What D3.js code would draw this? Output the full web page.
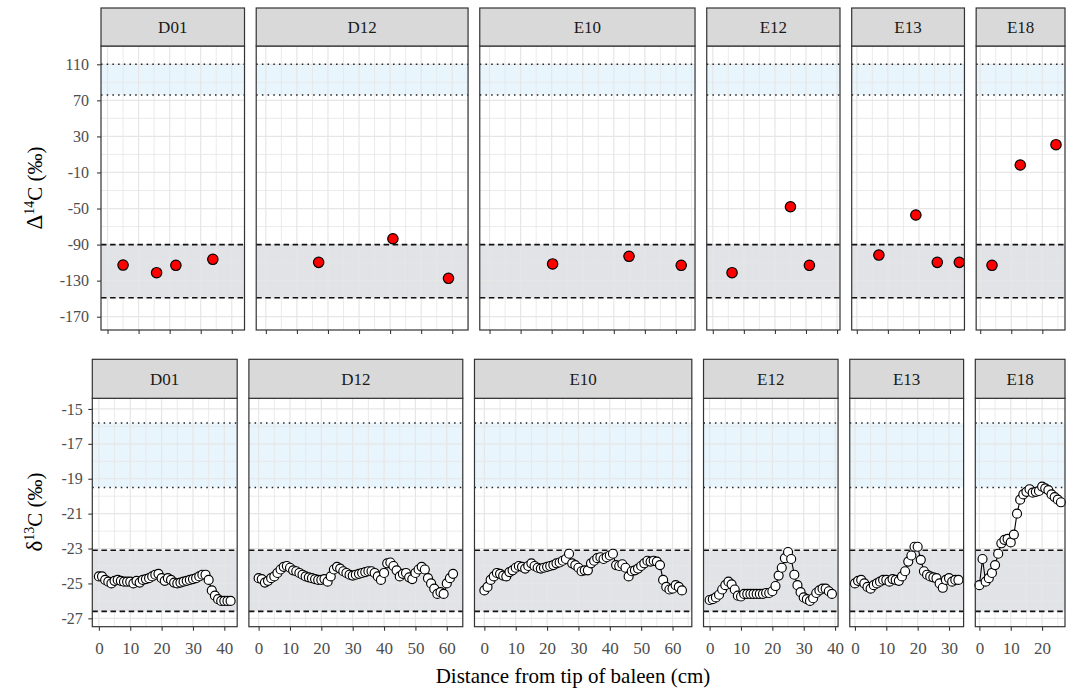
<!DOCTYPE html>
<html>
<head>
<meta charset="utf-8">
<script src="https://cdn.jsdelivr.net/npm/d3@7"></script>
<style>
  html, body { margin: 0; padding: 0; background: #fff; }
  svg { display: block; font-family: "Liberation Serif", "Times New Roman", serif; }
</style>
</head>
<body>
<svg id="chart" width="1072" height="689"></svg>
<script>
// ---------------------------------------------------------------------------
// Data
// ---------------------------------------------------------------------------

const whales = ["D01", "D12", "E10", "E12", "E13", "E18"];

// sampling distances along the baleen plate (cm)
const cm = [0, 1, 2, 3, 4, 5, 6, 7, 8, 9, 10, 11, 12, 13, 14, 15, 16, 17, 18, 19,
  20, 21, 22, 23, 24, 25, 26, 27, 28, 29, 30, 31, 32, 33, 34, 35, 36, 37, 38, 39,
  40, 41, 42, 43, 44, 45, 46, 47, 48, 49, 50, 51, 52, 53, 54, 55, 56, 57, 58, 59,
  60, 61, 62, 63];

// radiocarbon samples (distance, value), one list per whale
const d14cDist = [
  [5.0, 15.8, 22.0, 33.9],
  [17.0, 40.9, 58.8],
  [20.3, 44.9, 61.7],
  [6.2, 25.0, 31.1],
  [7.1, 19.0, 25.9, 33.0],
  [3.8, 12.9, 24.4]
];
const d14cValue = [
  [-112.7, -121.2, -113.0, -106.3],
  [-109.7, -83.5, -127.4],
  [-111.5, -103.0, -113.0],
  [-121.2, -48.0, -113.0],
  [-101.6, -57.2, -109.7, -109.7],
  [-113.0, -1.7, 20.8]
];

// stable carbon isotope profiles, one value per cm
const d13cD01 = [-24.6, -24.6, -24.8, -24.9, -25.0, -24.85, -24.8, -24.85, -24.9, -24.9,
  -24.9, -25.0, -24.85, -24.95, -24.8, -24.75, -24.7, -24.6, -24.5, -24.45,
  -24.7, -24.85, -24.7, -24.8, -24.95, -25.0, -24.95, -24.9, -24.85, -24.8,
  -24.75, -24.7, -24.6, -24.5, -24.5, -24.8, -25.4, -25.7, -25.9, -26.0,
  -26.0, -26.0, -26.0];
const d13cD12 = [-24.7, -24.75, -24.95, -24.85, -24.7, -24.6, -24.4, -24.2, -24.05, -24.0,
  -24.1, -24.25, -24.3, -24.4, -24.5, -24.6, -24.65, -24.7, -24.75, -24.8,
  -24.8, -24.75, -24.9, -24.6, -24.2, -24.05, -24.15, -24.3, -24.4, -24.5,
  -24.55, -24.5, -24.45, -24.4, -24.35, -24.3, -24.3, -24.4, -24.6, -24.8,
  -24.4, -23.85, -23.8, -24.0, -24.25, -24.6, -24.45, -24.4, -24.65, -24.75,
  -24.4, -24.2, -24.05, -24.2, -24.7, -25.0, -25.3, -25.6, -25.5, -25.6,
  -25.0, -24.7, -24.45];
const d13cE10 = [-25.4, -25.2, -24.8, -24.6, -24.4, -24.45, -24.55, -24.6, -24.35, -24.25,
  -24.1, -24.0, -24.05, -24.15, -24.0, -23.85, -24.0, -24.1, -24.15, -24.1,
  -24.05, -24.0, -23.95, -23.85, -23.8, -23.7, -23.6, -23.3, -23.85, -23.95,
  -24.1, -24.3, -24.25, -24.25, -23.85, -23.7, -23.55, -23.5, -23.6, -23.5,
  -23.4, -23.3, -23.95, -24.0, -23.9, -24.1, -24.6, -24.3, -24.25, -24.15,
  -24.0, -23.85, -23.7, -23.75, -23.7, -23.75, -23.95, -24.8, -25.2, -25.35,
  -25.3, -25.1, -25.2, -25.4];
const d13cE12 = [-25.95, -25.9, -25.8, -25.65, -25.35, -25.1, -24.9, -25.05, -25.35, -25.7,
  -25.75, -25.6, -25.6, -25.6, -25.6, -25.6, -25.6, -25.6, -25.55, -25.55,
  -25.45, -25.15, -24.55, -24.1, -23.55, -23.2, -23.6, -24.5, -25.1, -25.5,
  -25.8, -25.9, -26.0, -25.85, -25.55, -25.4, -25.3, -25.3, -25.45, -25.6];
const d13cE13 = [-25.0, -24.85, -24.8, -25.0, -25.2, -25.3, -25.1, -25.0, -24.9, -24.8,
  -24.8, -24.9, -24.75, -24.8, -24.85, -24.6, -24.3, -23.75, -23.4, -22.9,
  -22.9, -23.65, -24.3, -24.5, -24.6, -24.65, -24.7, -25.0, -25.25, -24.8,
  -24.7, -24.9, -24.8, -24.8];
const d13cE18 = [-25.1, -23.6, -24.9, -24.7, -24.4, -23.95, -23.3, -22.7, -22.5, -22.45,
  -22.65, -22.2, -21.0, -20.2, -19.9, -19.75, -19.6, -19.8, -19.75, -19.7,
  -19.45, -19.55, -19.65, -19.9, -20.05, -20.2, -20.35];
const d13cSeries = [d13cD01, d13cD12, d13cE10, d13cE12, d13cE13, d13cE18];

// reference ranges: dotted = open-ocean source, dashed = baseline
const d14cDotted = [76, 110];
const d14cDashed = [-149, -90];
const d13cDotted = [-19.5, -15.8];
const d13cDashed = [-26.6, -23.1];

// axis breaks
const d14cTicks = [110, 70, 30, -10, -50, -90, -130, -170];
const d14cMinor = [130, 90, 50, 10, -30, -70, -110, -150];
const d13cTicks = [-15, -17, -19, -21, -23, -25, -27];
const d13cMinor = [-16, -18, -20, -22, -24, -26];
const distTicks = [0, 10, 20, 30, 40, 50, 60];
const distMinor = [5, 15, 25, 35, 45, 55, 65];

// ---------------------------------------------------------------------------
// Layout / style
// ---------------------------------------------------------------------------

const GAP = 11.7;
const RIGHT = 1065;
const BORDER = "#333333";
const GRID = "#E6E6E6";
const TICK_TEXT = "#4D4D4D";

const rows = [
  {
    left: 101, stripTop: 8, top: 46, bottom: 330,
    yLim: [-184.75, 130.3], yTicks: d14cTicks, yMinor: d14cMinor,
    dotted: d14cDotted, dashed: d14cDashed, labelPad: 8, showX: false
  },
  {
    left: 92.3, stripTop: 359.3, top: 398.3, bottom: 626.7,
    yLim: [-27.48, -14.39], yTicks: d13cTicks, yMinor: d13cMinor,
    dotted: d13cDotted, dashed: d13cDashed, labelPad: 5.5, showX: true
  }
];

// x limits shared by both rows: data extent + 5% each side
const xDomains = d13cSeries.map((s) => {
  const xs = cm.slice(0, s.length);
  const lo = d3.min(xs), hi = d3.max(xs), r = hi - lo;
  return [lo - 0.05 * r, hi + 0.05 * r];
});

const svg = d3.select("#chart");

function styleAxis(g, fontSize) {
  g.select(".domain").remove();
  g.selectAll(".tick line").attr("stroke", BORDER).attr("stroke-width", 1.07);
  g.selectAll(".tick text")
    .attr("fill", TICK_TEXT)
    .attr("font-size", fontSize)
    .attr("font-family", "Liberation Serif, Times New Roman, serif");
}

rows.forEach((row, ri) => {
  const ranges = xDomains.map((d) => d[1] - d[0]);
  const k = (RIGHT - row.left - GAP * (whales.length - 1)) / d3.sum(ranges);
  const y = d3.scaleLinear().domain(row.yLim).range([row.bottom, row.top]);

  let x0 = row.left;
  whales.forEach((w, wi) => {
    const pw = ranges[wi] * k;
    const x = d3.scaleLinear().domain(xDomains[wi]).range([0, pw]);
    const g = svg.append("g").attr("transform", `translate(${x0},0)`);
    const ph = row.bottom - row.top;

    // panel background
    g.append("rect").attr("x", 0).attr("y", row.top)
      .attr("width", pw).attr("height", ph).attr("fill", "#fff");

    // reference bands
    g.append("rect").attr("x", 0).attr("width", pw)
      .attr("y", y(row.dotted[1])).attr("height", y(row.dotted[0]) - y(row.dotted[1]))
      .attr("fill", "#E9F5FC");
    g.append("rect").attr("x", 0).attr("width", pw)
      .attr("y", y(row.dashed[1])).attr("height", y(row.dashed[0]) - y(row.dashed[1]))
      .attr("fill", "#E1E3E7");

    // grid
    const inY = (v) => v >= row.yLim[0] && v <= row.yLim[1];
    const inX = (v) => v >= xDomains[wi][0] && v <= xDomains[wi][1];
    const grid = g.append("g").attr("stroke", GRID);
    row.yMinor.filter(inY).forEach((v) => {
      grid.append("line").attr("x1", 0).attr("x2", pw)
        .attr("y1", y(v)).attr("y2", y(v)).attr("stroke-width", 0.8);
    });
    distMinor.filter(inX).forEach((v) => {
      grid.append("line").attr("x1", x(v)).attr("x2", x(v))
        .attr("y1", row.top).attr("y2", row.bottom).attr("stroke-width", 0.8);
    });
    row.yTicks.filter(inY).forEach((v) => {
      grid.append("line").attr("x1", 0).attr("x2", pw)
        .attr("y1", y(v)).attr("y2", y(v)).attr("stroke-width", 1.2);
    });
    distTicks.filter(inX).forEach((v) => {
      grid.append("line").attr("x1", x(v)).attr("x2", x(v))
        .attr("y1", row.top).attr("y2", row.bottom).attr("stroke-width", 1.2);
    });

    // reference lines
    row.dotted.forEach((v) => {
      g.append("line").attr("x1", 0).attr("x2", pw).attr("y1", y(v)).attr("y2", y(v))
        .attr("stroke", "#222").attr("stroke-width", 1.5)
        .attr("stroke-dasharray", "1.5,4.2").attr("stroke-linecap", "butt");
    });
    row.dashed.forEach((v) => {
      g.append("line").attr("x1", 0).attr("x2", pw).attr("y1", y(v)).attr("y2", y(v))
        .attr("stroke", "#111").attr("stroke-width", 1.6)
        .attr("stroke-dasharray", "5.5,3.6");
    });

    // data
    if (ri === 0) {
      const pts = d14cDist[wi].map((d, i) => [d, d14cValue[wi][i]]);
      g.selectAll("circle.pt").data(pts).enter().append("circle")
        .attr("class", "pt")
        .attr("cx", (d) => x(d[0])).attr("cy", (d) => y(d[1]))
        .attr("r", 5.2).attr("fill", "#FF0000")
        .attr("stroke", "#000").attr("stroke-width", 1.2);
    } else {
      const pts = d13cSeries[wi].map((v, i) => [cm[i], v]);
      const line = d3.line().x((d) => x(d[0])).y((d) => y(d[1]));
      g.append("path").attr("d", line(pts))
        .attr("fill", "none").attr("stroke", "#000").attr("stroke-width", 1.1);
      g.selectAll("circle.pt").data(pts).enter().append("circle")
        .attr("class", "pt")
        .attr("cx", (d) => x(d[0])).attr("cy", (d) => y(d[1]))
        .attr("r", 4.5).attr("fill", "#fff")
        .attr("stroke", "#000").attr("stroke-width", 1.15);
    }

    // panel border
    g.append("rect").attr("x", 0).attr("y", row.top)
      .attr("width", pw).attr("height", ph)
      .attr("fill", "none").attr("stroke", BORDER).attr("stroke-width", 1.2);

    // strip
    g.append("rect").attr("x", 0).attr("y", row.stripTop)
      .attr("width", pw).attr("height", row.top - row.stripTop)
      .attr("fill", "#D9D9D9").attr("stroke", BORDER).attr("stroke-width", 1.2);
    g.append("text")
      .attr("x", pw / 2).attr("y", (row.stripTop + row.top) / 2)
      .attr("dy", "0.35em").attr("text-anchor", "middle")
      .attr("font-size", 17).attr("fill", "#1A1A1A")
      .text(w);

    // x axis
    const xAxis = d3.axisBottom(x)
      .tickValues(distTicks.filter(inX))
      .tickSize(4).tickPadding(11)
      .tickFormat(row.showX ? (d) => String(d) : () => "");
    const xg = g.append("g").attr("transform", `translate(0,${row.bottom})`).call(xAxis);
    styleAxis(xg, 17);

    // y axis on the first panel only
    if (wi === 0) {
      const yAxis = d3.axisLeft(y).tickValues(row.yTicks)
        .tickSize(4).tickPadding(row.labelPad)
        .tickFormat((d) => String(d));
      const yg = g.append("g").call(yAxis);
      styleAxis(yg, 16);
    }

    x0 += pw + GAP;
  });
});

// axis titles
function yTitle(cx, cy, sym, sup) {
  const t = svg.append("text")
    .attr("transform", `translate(${cx},${cy}) rotate(-90)`)
    .attr("text-anchor", "middle").attr("font-size", 21).attr("fill", "#000");
  t.append("tspan").attr("font-size", 23).text(sym);
  t.append("tspan").attr("font-size", 14).attr("dy", -8).text(sup);
  t.append("tspan").attr("dy", 8).text("C (‰)");
}
yTitle(41.5, 188, "Δ", "14");
yTitle(41.5, 512, "δ", "13");

svg.append("text")
  .attr("x", 573).attr("y", 683)
  .attr("text-anchor", "middle").attr("font-size", 21).attr("fill", "#000")
  .text("Distance from tip of baleen (cm)");
</script>
</body>
</html>
